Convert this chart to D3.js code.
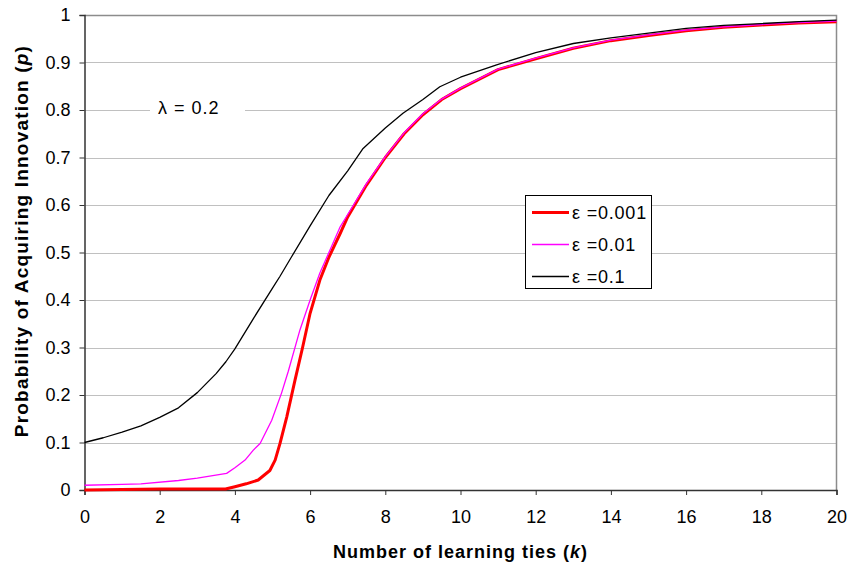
<!DOCTYPE html>
<html><head><meta charset="utf-8">
<script src="https://cdn.jsdelivr.net/npm/d3@7"></script>
<style>body{margin:0;background:#fff}svg{display:block;font-family:"Liberation Sans",Arial,sans-serif}</style>
</head><body><svg id="c" width="848" height="567"></svg>
<script>
const xTicks = [0,2,4,6,8,10,12,14,16,18,20];
const yTicks = [0,0.1,0.2,0.3,0.4,0.5,0.6,0.7,0.8,0.9,1];
const yTickLabels = ["0","0.1","0.2","0.3","0.4","0.5","0.6","0.7","0.8","0.9","1"];

const kRed = [0,1,2,3,3.75,4,4.3,4.62,4.93,5.07,5.2,5.38,5.6,5.8,6,6.26,6.5,6.8,7,7.5,8,8.5,9,9.5,10,10.5,11,12,13,14,15,16,17,18,19,20];
const pRed = [0,0.001,0.002,0.002,0.002,0.007,0.013,0.021,0.041,0.063,0.098,0.154,0.232,0.3,0.372,0.442,0.49,0.54,0.575,0.642,0.7,0.75,0.79,0.822,0.845,0.865,0.885,0.908,0.93,0.946,0.957,0.967,0.974,0.979,0.983,0.986];

const kMag = [0,1,1.5,2.5,3,3.78,4,4.27,4.49,4.67,4.98,5.24,5.42,5.73,6,6.26,6.5,6.8,7,7.5,8,8.5,9,9.5,10,10.5,11,12,13,14,15,16,17,18,19,20];
const pMag = [0.01,0.012,0.013,0.02,0.025,0.035,0.047,0.063,0.084,0.098,0.147,0.204,0.25,0.337,0.4,0.457,0.5,0.554,0.58,0.645,0.702,0.752,0.792,0.823,0.846,0.866,0.886,0.909,0.931,0.947,0.958,0.968,0.975,0.98,0.984,0.987];

const kBlk = [0,0.5,1,1.5,2,2.5,3,3.5,3.76,4,4.5,5,5.2,5.5,6,6.5,7,7.41,8,8.47,9,9.45,10,10.96,12,13,14,15,16,17,18,19,20];
const pBlk = [0.1,0.11,0.122,0.135,0.153,0.173,0.205,0.245,0.27,0.297,0.362,0.425,0.45,0.49,0.556,0.62,0.672,0.719,0.762,0.793,0.822,0.849,0.869,0.895,0.921,0.94,0.952,0.962,0.972,0.978,0.982,0.986,0.989];

const seriesNames = ["ε =0.001","ε =0.01","ε =0.1"];
const seriesK = [kRed,kMag,kBlk];
const seriesP = [pRed,pMag,pBlk];
const seriesColors = ["#ff0000","#ff00ff","#000000"];
const seriesWidths = [3,1.3,1.3];

const svg = d3.select("#c");
const L=84.5, R=836.5, T=15, B=490;
const x = d3.scaleLinear().domain([0,20]).range([L,R]);
const y = d3.scaleLinear().domain([0,1]).range([B,T]);

// gridlines
svg.append("g").selectAll("line").data(yTicks.slice(1,-1)).join("line")
  .attr("x1",L).attr("x2",R).attr("y1",d=>Math.round(y(d))+0.5).attr("y2",d=>Math.round(y(d))+0.5)
  .attr("stroke","#c0c0c0").attr("stroke-width",1);
// top/right border
svg.append("path").attr("d",`M${L},${T+0.5}H${R}V${B}`).attr("fill","none").attr("stroke","#8c8c8c").attr("stroke-width",1.5);

// lambda label
svg.append("rect").attr("x",150).attr("y",97).attr("width",95).attr("height",22).attr("fill","#fff");
svg.append("text").attr("x",158).attr("y",114).attr("font-size",18).attr("letter-spacing",1).text("λ = 0.2");

// axes
const xAxis = d3.axisBottom(x).tickValues(xTicks).tickSize(5).tickPadding(15).tickFormat(d3.format("d"));
const gx = svg.append("g").attr("transform",`translate(0,${B})`).call(xAxis);
gx.select(".domain").attr("stroke","#333").attr("stroke-width",1.5);
gx.selectAll(".tick line").attr("stroke","#333");
gx.selectAll("text").attr("font-size",18).attr("font-family","Liberation Sans, Arial, sans-serif").attr("fill","#000");

const yAxis = d3.axisLeft(y).tickValues(yTicks).tickSize(5).tickPadding(9).tickFormat((d,i)=>yTickLabels[i]);
const gy = svg.append("g").attr("transform",`translate(${L},0)`).call(yAxis);
gy.select(".domain").attr("stroke","#333").attr("stroke-width",1.5);
gy.selectAll(".tick line").attr("stroke","#333");
gy.selectAll("text").attr("font-size",18).attr("font-family","Liberation Sans, Arial, sans-serif").attr("fill","#000");

// lines
const line = d3.line().x(d=>x(d[0])).y(d=>y(d[1]));
seriesK.forEach((ks,i)=>{
  const pts = ks.map((k,j)=>[k,seriesP[i][j]]);
  svg.append("path").datum(pts).attr("d",line).attr("fill","none")
    .attr("stroke",seriesColors[i]).attr("stroke-width",seriesWidths[i]).attr("stroke-linejoin","round");
});

// legend
const lg = svg.append("g");
lg.append("rect").attr("x",525.5).attr("y",195.5).attr("width",126).attr("height",93).attr("fill","#fff").attr("stroke","#000").attr("stroke-width",1);
seriesNames.forEach((n,i)=>{
  const yy = 212.5 + i*32;
  lg.append("line").attr("x1",532).attr("x2",569).attr("y1",yy).attr("y2",yy).attr("stroke",seriesColors[i]).attr("stroke-width",seriesWidths[i]);
  lg.append("text").attr("x",572).attr("y",yy+6.5).attr("font-size",18).attr("letter-spacing",0.8).text(n);
});

// axis titles
const xt = svg.append("text").attr("x",(L+R)/2).attr("y",558).attr("text-anchor","middle").attr("font-size",18).attr("font-weight","bold").attr("letter-spacing",1);
xt.append("tspan").text("Number of learning ties (");
xt.append("tspan").attr("font-style","italic").text("k");
xt.append("tspan").text(")");
const yt = svg.append("text").attr("transform",`translate(28,241) rotate(-90)`).attr("text-anchor","middle").attr("font-size",19).attr("font-weight","bold").attr("letter-spacing",1.2);
yt.append("tspan").text("Probability of Acquiring Innovation (");
yt.append("tspan").attr("font-style","italic").text("p");
yt.append("tspan").text(")");
</script></body></html>
